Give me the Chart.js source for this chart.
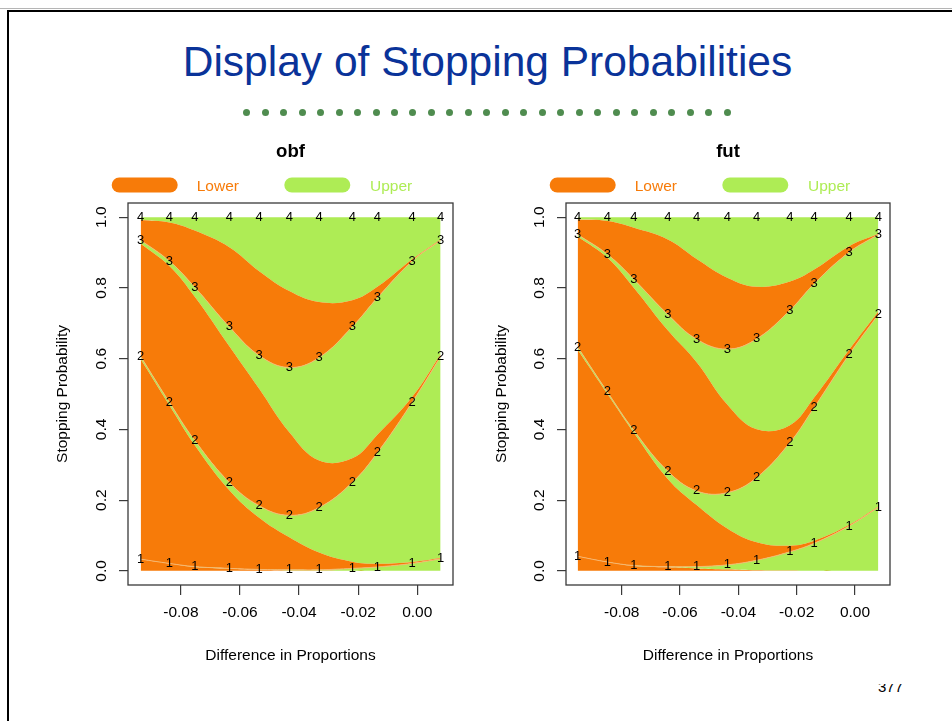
<!DOCTYPE html>
<html>
<head>
<meta charset="utf-8">
<title>Display of Stopping Probabilities</title>
<script src="https://cdn.jsdelivr.net/npm/chart.js@4.4.1/dist/chart.umd.min.js"></script>
<style>
  html, body { margin: 0; padding: 0; background: #fff; }
  body { width: 952px; height: 721px; position: relative; overflow: hidden;
         font-family: "Liberation Sans", Arial, Helvetica, sans-serif; }
  #rule { position: absolute; left: 0; top: 8px; width: 952px; height: 1px; background: #b5b5b5; }
  #frame { position: absolute; left: 7px; top: 10px; width: 990px; height: 760px;
           border-top: 2px solid #000; border-left: 2px solid #000; }
  #heading { position: absolute; left: 0; top: 41px; width: 975px; text-align: center;
             font-size: 42.5px; line-height: 42.5px; color: #0a3399; white-space: nowrap; }
  #dots { position: absolute; left: 0; top: 0; }
  .dot { position: absolute; width: 7px; height: 7px; border-radius: 50%; background: #4f8c4f; }
  #page { position: absolute; left: 878px; top: 684px; width: 40px; height: 10px; overflow: hidden; }
  #page span { position: absolute; left: 0; top: -5px; font-size: 15px; line-height: 15px; color: #000; }
  canvas { position: absolute; }
</style>
</head>
<body>
<div id="rule"></div>
<div id="frame"></div>
<div id="heading">Display of Stopping Probabilities</div>
<div id="dots"></div>
<div id="page"><span>377</span></div>
<canvas id="obfChart" width="476" height="570" style="left:0px; top:120px; width:476px; height:570px;"></canvas>
<canvas id="futChart" width="476" height="570" style="left:476px; top:120px; width:476px; height:570px;"></canvas>

<script>
// ---- Axis ticks ----
const xTicks = [-0.08, -0.06, -0.04, -0.02, 0.00];
const yTicks = [0.0, 0.2, 0.4, 0.6, 0.8, 1.0];
const legendLabels = ['Lower', 'Upper'];

// ---- obf design: treatment difference grid ----
const obfDelta = [-0.0936, -0.0839, -0.0753, -0.0636, -0.0535, -0.0433, -0.0332, -0.0220, -0.0135, -0.0017, 0.0079];
// cumulative probability of stopping by analysis k
const obfCum1 = [0.033, 0.021, 0.012, 0.007, 0.004, 0.003, 0.003, 0.007, 0.011, 0.021, 0.034];
const obfCum2 = [0.606, 0.477, 0.369, 0.250, 0.184, 0.157, 0.179, 0.250, 0.334, 0.477, 0.606];
const obfCum3 = [0.935, 0.876, 0.802, 0.690, 0.609, 0.575, 0.603, 0.690, 0.772, 0.876, 0.935];
const obfCum4 = [1.000, 1.000, 1.000, 1.000, 1.000, 1.000, 1.000, 1.000, 1.000, 1.000, 1.000];
// cumulative level reached after adding the lower-bound crossing at analysis k
const obfLow1 = [0.033, 0.021, 0.011, 0.006, 0.003, 0.001, 0.001, 0.000, 0.000, 0.000, 0.000];
const obfLow2 = [0.598, 0.468, 0.355, 0.228, 0.150, 0.095, 0.052, 0.026, 0.020, 0.025, 0.036];
const obfLow3 = [0.925, 0.862, 0.775, 0.635, 0.515, 0.392, 0.312, 0.318, 0.385, 0.492, 0.612];
const obfLow4 = [0.992, 0.985, 0.962, 0.915, 0.847, 0.791, 0.760, 0.765, 0.803, 0.881, 0.937];

// ---- fut design ----
const futDelta = [-0.0951, -0.0849, -0.0758, -0.0642, -0.0543, -0.0438, -0.0337, -0.0223, -0.0140, -0.0020, 0.0080];
const futCum1 = [0.041, 0.025, 0.015, 0.012, 0.012, 0.017, 0.030, 0.054, 0.078, 0.127, 0.180];
const futCum2 = [0.633, 0.506, 0.397, 0.282, 0.226, 0.221, 0.264, 0.363, 0.462, 0.612, 0.725];
const futCum3 = [0.951, 0.895, 0.824, 0.725, 0.655, 0.627, 0.656, 0.737, 0.812, 0.901, 0.951];
const futCum4 = [1.000, 1.000, 1.000, 1.000, 1.000, 1.000, 1.000, 1.000, 1.000, 1.000, 1.000];
const futLow1 = [0.041, 0.025, 0.014, 0.010, 0.007, 0.004, 0.002, 0.001, 0.000, 0.000, 0.000];
const futLow2 = [0.625, 0.500, 0.390, 0.260, 0.186, 0.120, 0.081, 0.071, 0.085, 0.130, 0.182];
const futLow3 = [0.945, 0.885, 0.800, 0.680, 0.590, 0.470, 0.400, 0.412, 0.490, 0.625, 0.733];
const futLow4 = [0.993, 0.989, 0.970, 0.937, 0.882, 0.829, 0.803, 0.818, 0.852, 0.918, 0.953];

// ---- styling ----
const ORANGE = '#f77b09';
const GREEN = '#aeec55';
const CURVE = '#f6b66f';
const AXIS = '#3a3a3a';
const FONT = '"Liberation Sans", Arial, Helvetica, sans-serif';

// decorative dotted rule under the heading
(function () {
  const host = document.getElementById('dots');
  const n = 27, x0 = 246.7, x1 = 727;
  for (let i = 0; i < n; i++) {
    const d = document.createElement('div');
    d.className = 'dot';
    d.style.left = (x0 + (x1 - x0) * i / (n - 1) - 3.5) + 'px';
    d.style.top = (112.7 - 3.5) + 'px';
    host.appendChild(d);
  }
})();

function fmt(v, digits) {
  return v.toFixed(digits);
}

// panel decorations: box, rotated y tick labels, title, legend, curve numbers
const panelPlugin = {
  id: 'panelDecor',
  afterDatasetsDraw(chart) {
    const ctx = chart.ctx;
    ctx.save();
    ctx.font = '13px ' + FONT;
    ctx.fillStyle = '#000';
    ctx.textAlign = 'center';
    ctx.textBaseline = 'middle';
    chart.data.datasets.forEach((ds, di) => {
      if (!ds.analysis) return;
      const meta = chart.getDatasetMeta(di);
      meta.data.forEach(pt => ctx.fillText(String(ds.analysis), pt.x, pt.y));
    });
    ctx.restore();
  },
  afterDraw(chart) {
    const ctx = chart.ctx;
    const a = chart.chartArea;
    const opts = chart.options.plugins.panelDecor;
    ctx.save();
    // plot box
    ctx.strokeStyle = AXIS;
    ctx.lineWidth = 1.3;
    ctx.strokeRect(a.left, a.top, a.right - a.left, a.bottom - a.top);
    // y tick labels, written bottom-to-top
    const ys = chart.scales.y;
    ctx.fillStyle = '#000';
    ctx.font = '15.5px ' + FONT;
    ctx.textAlign = 'center';
    ctx.textBaseline = 'middle';
    yTicks.forEach(v => {
      const py = ys.getPixelForValue(v);
      ctx.save();
      ctx.translate(a.left - 26, py);
      ctx.rotate(-Math.PI / 2);
      ctx.fillText(fmt(v, 1), 0, 0);
      ctx.restore();
    });
    // panel title
    const cx = (a.left + a.right) / 2;
    ctx.font = 'bold 18.6px ' + FONT;
    ctx.textBaseline = 'alphabetic';
    ctx.fillText(opts.title, cx, a.top - 46);
    // legend
    const legY = a.top - 18;
    const pills = [
      { x: a.left - 16.3, color: ORANGE, text: legendLabels[0], tx: a.left + 68.7 },
      { x: a.left + 156.3, color: GREEN, text: legendLabels[1], tx: a.left + 242 }
    ];
    ctx.font = '15.5px ' + FONT;
    ctx.textAlign = 'left';
    pills.forEach(p => {
      ctx.fillStyle = p.color;
      ctx.beginPath();
      ctx.roundRect(p.x, legY - 7.5, 66, 15, 7.5);
      ctx.fill();
      ctx.fillText(p.text, p.tx, legY + 5.5);
    });
    ctx.restore();
  }
};

function buildPanel(canvasId, title, delta, lows, cums, geom) {
  const datasets = [];
  for (let k = 0; k < 4; k++) {
    datasets.push({
      label: 'Lower bound crossing, analysis ' + (k + 1),
      data: delta.map((x, i) => ({ x: x, y: lows[k][i] })),
      fill: k === 0 ? 'origin' : '-1',
      backgroundColor: ORANGE,
      borderWidth: 0,
      pointRadius: 0,
      tension: 0.4
    });
    datasets.push({
      label: 'Stopped by analysis ' + (k + 1),
      analysis: k + 1,
      data: delta.map((x, i) => ({ x: x, y: cums[k][i] })),
      fill: '-1',
      backgroundColor: GREEN,
      borderColor: CURVE,
      borderWidth: k < 3 ? 1 : 0,
      pointRadius: 0,
      tension: 0.4
    });
  }

  return new Chart(document.getElementById(canvasId), {
    type: 'line',
    data: { datasets: datasets },
    plugins: [panelPlugin],
    options: {
      responsive: false,
      animation: false,
      events: [],
      layout: { padding: { left: geom.padLeft, right: geom.padRight, top: 83, bottom: 10 } },
      plugins: {
        legend: { display: false },
        tooltip: { enabled: false },
        filler: { drawTime: 'beforeDatasetsDraw' },
        panelDecor: { title: title }
      },
      scales: {
        x: {
          type: 'linear',
          min: geom.xMin,
          max: geom.xMax,
          afterBuildTicks: s => { s.ticks = xTicks.map(v => ({ value: v })); },
          afterFit: s => { s.height = 95; },
          border: { display: false },
          grid: { drawOnChartArea: false, drawTicks: true, tickLength: 10, color: AXIS, lineWidth: 1.2 },
          ticks: {
            padding: 8.7,
            color: '#000',
            font: { family: FONT, size: 15.5 },
            maxRotation: 0,
            callback: v => fmt(v, 2)
          },
          title: {
            display: true,
            text: 'Difference in Proportions',
            color: '#000',
            font: { family: FONT, size: 15.5 },
            padding: { top: 0, bottom: 14.7 }
          }
        },
        y: {
          type: 'linear',
          min: -0.04,
          max: 1.04,
          afterBuildTicks: s => { s.ticks = yTicks.map(v => ({ value: v })); },
          afterFit: s => { s.width = 75; },
          border: { display: false },
          grid: { drawOnChartArea: false, drawTicks: true, tickLength: 9, color: AXIS, lineWidth: 1.2 },
          ticks: { display: false },
          title: {
            display: true,
            text: 'Stopping Probability',
            color: '#000',
            font: { family: FONT, size: 15.5 },
            padding: { top: geom.titlePad, bottom: 0 }
          }
        }
      }
    }
  });
}

buildPanel('obfChart', 'obf', obfDelta,
  [obfLow1, obfLow2, obfLow3, obfLow4],
  [obfCum1, obfCum2, obfCum3, obfCum4],
  { padLeft: 53, padRight: 23, xMin: -0.0979, xMax: 0.0121, titlePad: 0.7 });

buildPanel('futChart', 'fut', futDelta,
  [futLow1, futLow2, futLow3, futLow4],
  [futCum1, futCum2, futCum3, futCum4],
  { padLeft: 15, padRight: 62, xMin: -0.0991, xMax: 0.0120, titlePad: 1.7 });
</script>
</body>
</html>
